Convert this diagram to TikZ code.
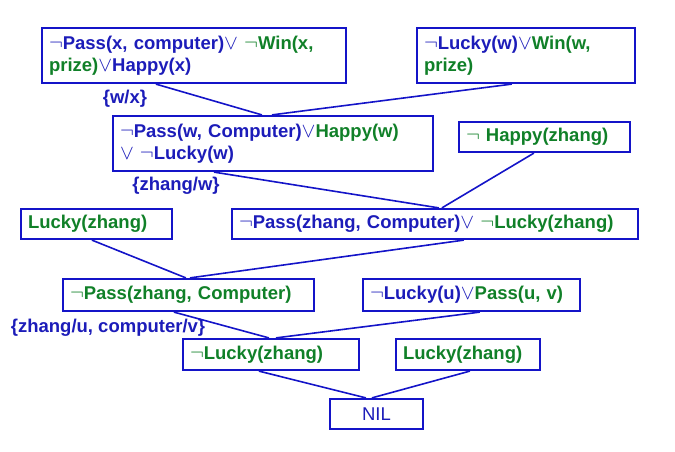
\documentclass[tikz,border=0pt]{standalone}
\usepackage{fontspec}
\setmainfont{Liberation Sans}
\definecolor{tblue}{RGB}{28,28,185}
\definecolor{tgreen}{RGB}{16,128,40}
\definecolor{lblue}{RGB}{20,20,200}
\newcommand{\nt}{{\fontsize{22}{22}\selectfont$\neg$}}
\newcommand{\vo}{{\fontsize{22}{22}\selectfont$\vee$}}
\newcommand{\bl}[1]{\textcolor{tblue}{#1}}
\newcommand{\gr}[1]{\textcolor{tgreen}{#1}}
\begin{document}
\begin{tikzpicture}[x=1pt,y=-1pt,
  box/.style={draw=lblue,line width=2.2pt,inner xsep=7pt,inner ysep=0pt,align=left,
    font=\fontsize{18.5}{22}\selectfont\bfseries},
  lbl/.style={text=tblue,inner sep=0pt,font=\fontsize{18.5}{22}\selectfont\bfseries},
  link/.style={draw=lblue,line width=1.6pt}]
\useasboundingbox (0,0) rectangle (675,452);
\node[box,minimum width=304pt,minimum height=55pt,text width=290pt] (b1) at (194,55.5)
  {\bl{\nt Pass(x, computer)\vo} \gr{\nt Win(x,}\\\gr{prize)}\bl{\vo Happy(x)}};
\node[box,minimum width=218pt,minimum height=55pt,text width=204pt] (b2) at (526,55.5)
  {\bl{\nt Lucky(w)\vo}\gr{Win(w,}\\\gr{prize)}};
\node[box,minimum width=320pt,minimum height=55pt,text width=306pt] (b3) at (273,143.5)
  {\bl{\nt Pass(w, Computer)\vo}\gr{Happy(w)}\\\bl{\vo\ \nt Lucky(w)}};
\node[box,minimum width=171pt,minimum height=30pt,text width=157pt] (b4) at (544.5,137)
  {\gr{\nt\ Happy(zhang)}};
\node[box,minimum width=151pt,minimum height=30pt,text width=137pt] (b5) at (96.5,224)
  {\gr{Lucky(zhang)}};
\node[box,minimum width=406pt,minimum height=30pt,text width=392pt] (b6) at (435,224)
  {\bl{\nt Pass(zhang, Computer)\vo} \gr{\nt Lucky(zhang)}};
\node[box,minimum width=251pt,minimum height=32pt,text width=237pt] (b7) at (188.5,295)
  {\gr{\nt Pass(zhang, Computer)}};
\node[box,minimum width=217pt,minimum height=32pt,text width=203pt] (b8) at (471.5,295)
  {\bl{\nt Lucky(u)\vo}\gr{Pass(u, v)}};
\node[box,minimum width=176pt,minimum height=31pt,text width=162pt] (b9) at (271,354.5)
  {\gr{\nt Lucky(zhang)}};
\node[box,minimum width=144pt,minimum height=31pt,text width=130pt] (b10) at (468,354.5)
  {\gr{Lucky(zhang)}};
\node[box,minimum width=93pt,minimum height=30pt,text width=79pt,align=center,text=tblue,
  font=\fontsize{18.5}{22}\selectfont] (nil) at (376.5,414) {NIL};
\node[lbl] (s1) at (125,99) {\{w/x\}};
\node[lbl] (s2) at (176,186) {\{zhang/w\}};
\node[lbl] (s3) at (108,328) {\{zhang/u, computer/v\}};
\path[link] ([xshift=115pt]b1.south west) -- ([xshift=150pt]b3.north west);
\path[link] ([xshift=96pt]b2.south west) -- ([xshift=160pt]b3.north west);
\path[link] ([xshift=102pt]b3.south west) -- ([xshift=208pt]b6.north west);
\path[link] ([xshift=76pt]b4.south west) -- ([xshift=211pt]b6.north west);
\path[link] ([xshift=72pt]b5.south west) -- ([xshift=124pt]b7.north west);
\path[link] ([xshift=233pt]b6.south west) -- ([xshift=128pt]b7.north west);
\path[link] ([xshift=112pt]b7.south west) -- ([xshift=87pt]b9.north west);
\path[link] ([xshift=118pt]b8.south west) -- ([xshift=94pt]b9.north west);
\path[link] ([xshift=77pt]b9.south west) -- ([xshift=37pt]nil.north west);
\path[link] ([xshift=75pt]b10.south west) -- ([xshift=43pt]nil.north west);
\end{tikzpicture}
\end{document}
